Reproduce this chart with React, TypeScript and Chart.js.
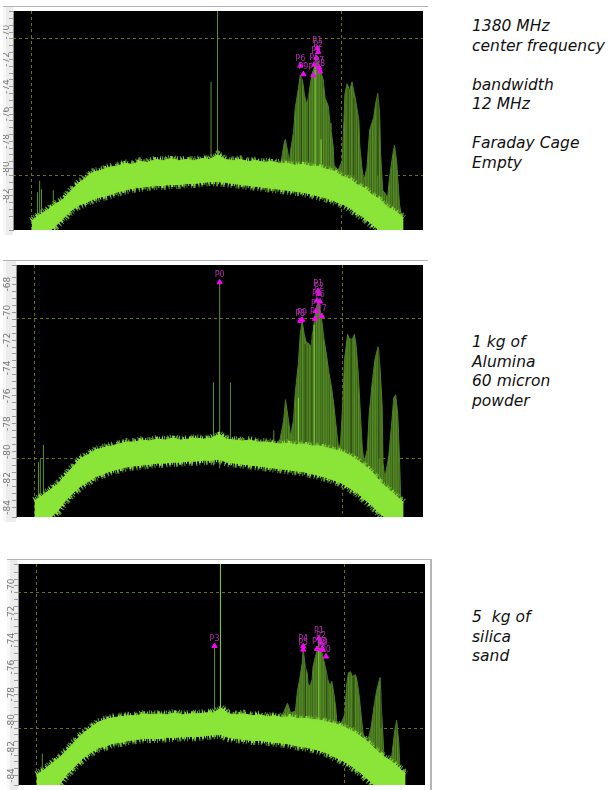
import React, { useEffect, useRef } from 'react';
import { Chart, registerables } from 'chart.js';

Chart.register(...registerables);

// ---------- shared axis data ----------
const bandFreqs = [
  1374, 1374.25, 1374.5, 1374.75, 1375, 1375.25, 1375.5, 1375.75, 1376, 1376.25,
  1376.5, 1376.75, 1377, 1377.25, 1377.5, 1377.75, 1378, 1378.25, 1378.5, 1378.75,
  1379, 1379.25, 1379.5, 1379.75, 1380, 1380.25, 1380.5, 1380.75, 1381, 1381.25,
  1381.5, 1381.75, 1382, 1382.25, 1382.5, 1382.75, 1383, 1383.25, 1383.5, 1383.75,
  1384, 1384.25, 1384.5, 1384.75, 1385, 1385.25, 1385.5, 1385.75, 1386,
];
const gridFreqs = [1374, 1384];
const refLevels = [-70.45, -80.5];

// ---------- panel 1 : Faraday cage empty ----------
const emptyTop = [
  -83.82, -83.4, -83.05, -82.63, -82.28, -81.65, -81.09, -80.67, -80.25, -80.11,
  -79.89, -79.82, -79.61, -79.68, -79.47, -79.54, -79.33, -79.4, -79.26, -79.4,
  -79.33, -79.4, -79.26, -79.33, -78.98, -79.33, -79.4, -79.33, -79.47, -79.4,
  -79.54, -79.47, -79.61, -79.61, -79.75, -79.68, -79.82, -79.82, -80.04, -80.18,
  -80.53, -80.74, -81.16, -81.44, -81.93, -82.28, -82.84, -83.12, -83.61,
];
const emptyBottom = [
  -84.74, -84.74, -84.67, -84.25, -83.68, -83.12, -82.7, -82.49, -82.21, -82.07,
  -81.93, -81.72, -81.58, -81.44, -81.37, -81.3, -81.23, -81.23, -81.16, -81.16,
  -81.09, -81.09, -81.02, -80.95, -80.95, -81.02, -81.09, -81.16, -81.23, -81.3,
  -81.37, -81.44, -81.51, -81.58, -81.65, -81.72, -81.86, -82.0, -82.14, -82.35,
  -82.56, -82.84, -83.26, -83.61, -84.11, -84.53, -84.74, -84.74, -84.74,
];
const emptyHumpFreqs = [
  1381.94, 1382.03, 1382.16, 1382.19, 1382.26, 1382.32, 1382.35, 1382.45, 1382.51, 1382.61,
  1382.67, 1382.74, 1382.8, 1382.86, 1382.93, 1382.99, 1383.06, 1383.15, 1383.25, 1383.31,
  1383.41, 1383.47, 1383.57, 1383.63, 1383.66, 1383.73, 1383.76, 1383.89, 1384.02, 1384.08,
  1384.11, 1384.18, 1384.24, 1384.27, 1384.34, 1384.4, 1384.46, 1384.56, 1384.59, 1384.66,
  1384.72, 1384.82, 1384.91, 1385.04, 1385.1, 1385.17, 1385.23, 1385.26, 1385.33, 1385.49,
  1385.55, 1385.65, 1385.71, 1385.78, 1385.87, 1385.94, 1386.0,
];
const emptyHumpLevels = [
  -80.32, -79.82, -78.0, -77.86, -78.7, -79.61, -78.77, -77.37, -75.54, -74.14,
  -73.16, -73.51, -74.49, -75.26, -74.84, -73.86, -72.95, -72.46, -72.11, -72.74,
  -73.51, -74.84, -75.4, -76.67, -77.16, -78.35, -79.75, -80.11, -79.47, -76.46,
  -74.56, -73.79, -74.14, -74.21, -73.65, -74.35, -75.05, -76.46, -78.35, -79.96,
  -80.88, -79.96, -77.16, -76.25, -75.26, -74.49, -75.96, -78.77, -81.58, -82.07,
  -80.67, -79.05, -78.28, -79.47, -82.56, -83.61, -83.82,
];
const emptyStripeFreqs = [1382.7, 1382.93, 1384.21, 1384.4, 1385.17];
const emptyStripeTops = [-73.3, -74.56, -74.14, -74.84, -74.7];
const emptyLightFreqs = [1383.15, 1383.34];
const emptyLightTops = [-72.46, -77.86];
const emptySpikeFreqs = [1374.19, 1374.26, 1374.32, 1374.7, 1379.79, 1380.0];
const emptySpikeBases = [-83.5, -83.5, -83.5, -83.0, -81, -81.3];
const emptySpikeTops = [-81.72, -80.88, -81.51, -81.58, -73.65, -66];
const emptyMarkFreqs = [1382.67, 1382.77, 1383.09, 1383.12, 1383.18, 1383.22, 1383.25, 1383.28, 1383.31];
const emptyMarkLevels = [-72.46, -73.09, -73.16, -72.39, -71.89, -71.19, -71.47, -72.6, -72.88];
const emptyMarkLabels = ['P6', 'P9', 'P3', 'P5', 'P4', 'P1', 'P2', 'P7', 'P8'];

// ---------- panel 2 : 1 kg alumina ----------
const aluminaTop = [
  -83.52, -83.17, -82.76, -82.34, -81.72, -81.1, -80.48, -80.21, -79.86, -79.72,
  -79.59, -79.45, -79.31, -79.31, -79.17, -79.24, -79.1, -79.17, -79.03, -79.17,
  -79.1, -79.03, -79.1, -79.03, -78.76, -79.1, -79.17, -79.24, -79.17, -79.31,
  -79.31, -79.38, -79.45, -79.38, -79.52, -79.45, -79.59, -79.59, -79.72, -79.86,
  -80.0, -80.28, -80.62, -81.03, -81.52, -82.21, -82.69, -83.17, -83.66,
];
const aluminaBottom = [
  -84.9, -84.9, -84.76, -84.28, -83.52, -82.97, -82.48, -82.14, -81.79, -81.59,
  -81.38, -81.24, -81.1, -81.03, -80.97, -80.9, -80.83, -80.83, -80.76, -80.76,
  -80.69, -80.69, -80.62, -80.62, -80.55, -80.76, -80.83, -80.9, -80.97, -81.03,
  -81.1, -81.17, -81.24, -81.31, -81.38, -81.45, -81.59, -81.72, -81.86, -82.07,
  -82.28, -82.62, -82.97, -83.45, -83.93, -84.48, -84.9, -84.9, -84.9,
];
const aluminaHumpFreqs = [
  1381.94, 1382.1, 1382.16, 1382.26, 1382.32, 1382.42, 1382.48, 1382.58, 1382.64, 1382.7,
  1382.77, 1382.83, 1382.93, 1382.99, 1383.06, 1383.12, 1383.22, 1383.28, 1383.34, 1383.41,
  1383.5, 1383.57, 1383.66, 1383.73, 1383.82, 1383.89, 1383.95, 1384.02, 1384.08, 1384.18,
  1384.24, 1384.34, 1384.4, 1384.46, 1384.53, 1384.59, 1384.66, 1384.72, 1384.82, 1384.88,
  1384.98, 1385.07, 1385.17, 1385.23, 1385.3, 1385.33, 1385.39, 1385.52, 1385.62, 1385.68,
  1385.74, 1385.81, 1385.87, 1385.9, 1385.97,
];
const aluminaHumpLevels = [
  -79.59, -77.79, -76.28, -77.79, -78.9, -77.79, -75.72, -73.66, -71.59, -70.62,
  -71.59, -72.14, -72.28, -72.48, -71.31, -70.21, -69.17, -69.72, -70.62, -71.93,
  -73.17, -74.34, -75.45, -76.62, -78.48, -79.86, -79.38, -76.62, -73.38, -71.59,
  -71.93, -71.93, -71.59, -72.48, -74.55, -77.1, -79.86, -80.76, -79.86, -77.31,
  -75.03, -73.38, -72.48, -73.86, -76.62, -80.76, -81.93, -80.28, -77.79, -76.14,
  -75.93, -77.31, -80.76, -83.03, -84.0,
];
const aluminaStripeFreqs = [1382.8, 1383.02, 1384.3, 1385.2];
const aluminaStripeTops = [-72.28, -71.59, -71.93, -72.69];
const aluminaLightFreqs = [1382.58, 1383.09];
const aluminaLightTops = [-76.14, -70.9];
const aluminaSpikeFreqs = [1374.13, 1374.19, 1374.29, 1379.82, 1380.02, 1380.37, 1381.78];
const aluminaSpikeBases = [-83.3, -83.3, -83.3, -81, -81.2, -81, -81];
const aluminaSpikeTops = [-80.76, -80.55, -79.52, -75.03, -67.86, -75.03, -78.48];
const aluminaMarkFreqs = [1380.02, 1382.64, 1382.7, 1383.12, 1383.15, 1383.18, 1383.22, 1383.25, 1383.28, 1383.34];
const aluminaMarkLevels = [-67.86, -70.62, -70.55, -70.48, -69.93, -69.17, -68.48, -68.69, -69.24, -70.28];
const aluminaMarkLabels = ['P0', 'P8', 'P9', 'P3', 'P5', 'P4', 'P1', 'P2', 'P6', 'P7'];

// ---------- panel 3 : 5 kg silica sand ----------
const sandTop = [
  -83.94, -83.59, -83.1, -82.68, -82.11, -81.48, -80.92, -80.49, -80.07, -79.86,
  -79.72, -79.65, -79.58, -79.58, -79.44, -79.51, -79.44, -79.51, -79.37, -79.51,
  -79.44, -79.44, -79.37, -79.37, -79.01, -79.44, -79.51, -79.44, -79.58, -79.51,
  -79.65, -79.58, -79.72, -79.65, -79.79, -79.79, -79.86, -79.93, -80.07, -80.21,
  -80.42, -80.7, -81.06, -81.48, -82.04, -82.54, -82.89, -83.38, -83.87,
];
const sandBottom = [
  -85.0, -85.0, -85.0, -84.65, -83.87, -83.31, -82.75, -82.32, -81.97, -81.83,
  -81.62, -81.55, -81.41, -81.34, -81.27, -81.27, -81.27, -81.2, -81.2, -81.13,
  -81.13, -81.13, -81.06, -80.99, -80.99, -81.2, -81.27, -81.34, -81.41, -81.41,
  -81.48, -81.55, -81.62, -81.69, -81.83, -81.9, -82.04, -82.18, -82.39, -82.68,
  -82.96, -83.31, -83.73, -84.23, -84.72, -85.0, -85.0, -85.0, -85.0,
];
const sandHumpFreqs = [
  1381.94, 1382.16, 1382.26, 1382.42, 1382.48, 1382.54, 1382.64, 1382.67, 1382.74, 1382.8,
  1382.83, 1382.9, 1382.96, 1382.99, 1383.06, 1383.12, 1383.18, 1383.28, 1383.34, 1383.41,
  1383.47, 1383.54, 1383.6, 1383.66, 1383.73, 1383.76, 1383.86, 1384.02, 1384.08, 1384.14,
  1384.21, 1384.27, 1384.37, 1384.43, 1384.5, 1384.56, 1384.62, 1384.75, 1384.88, 1384.98,
  1385.07, 1385.17, 1385.2, 1385.26, 1385.3, 1385.46, 1385.55, 1385.65, 1385.71, 1385.78,
  1385.81, 1385.87,
];
const sandHumpLevels = [
  -79.86, -78.66, -79.37, -79.23, -77.82, -77.11, -75.7, -74.65, -75.99, -76.41,
  -77.25, -77.39, -76.9, -75.99, -75.28, -74.79, -74.58, -74.93, -75.49, -76.2,
  -76.9, -77.39, -77.04, -77.82, -79.01, -79.93, -80.42, -79.51, -77.39, -76.41,
  -76.34, -76.69, -76.55, -77.11, -78.31, -79.72, -80.92, -81.62, -80.42, -78.8,
  -77.61, -76.76, -78.52, -80.92, -82.75, -83.73, -82.54, -80.63, -79.93, -81.62,
  -83.24, -84.15,
];
const sandStripeFreqs = [1382.74, 1383.44, 1384.3, 1385.2];
const sandStripeTops = [-75.99, -76.41, -76.69, -77.61];
const sandLightFreqs = [1379.98, 1383.18];
const sandLightTops = [-66, -73.87];
const sandSpikeFreqs = [1374.19, 1379.79];
const sandSpikeBases = [-83.5, -81];
const sandSpikeTops = [-82.39, -74.44];
const sandMarkFreqs = [1379.79, 1382.67, 1382.67, 1383.12, 1383.18, 1383.25, 1383.28, 1383.31, 1383.41];
const sandMarkLevels = [-74.44, -74.45, -74.7, -74.65, -73.87, -74.23, -74.65, -74.72, -75.21];
const sandMarkLabels = ['P3', 'P4', 'P5', 'P7', 'P1', 'P2', 'P8', 'P9', 'P0'];

// ---------- styles ----------
const BAND = '#8be438';
const FRINGE_TOP = '#63a02a';
const FRINGE_LOW = '#5b9526';
const STRIPE = '#2c4711';
const SPIKE = '#5f9228';
const LIGHT = '#86d93a';
const GRID = '#707008';
const MARK = '#ff00ff';
const MARK_TEXT = '#b22db2';
const X_MIN = 1373.4;
const X_MAX = 1386.63;

function pairs(xs: number[], ys: number[]) {
  return xs.map((x, i) => ({ x, y: ys[i] }));
}
function sticks(xs: number[], bases: number[] | number, tops: number[]) {
  const pts: any[] = [];
  xs.forEach((x, i) => {
    const b = Array.isArray(bases) ? bases[i] : bases;
    pts.push({ x, y: b }, { x, y: tops[i] }, { x, y: null });
  });
  return pts;
}

function humpPattern(): CanvasPattern | string {
  const c = document.createElement('canvas');
  c.width = 7;
  c.height = 1;
  const g = c.getContext('2d');
  if (!g) return '#4b7b1f';
  const cols = ['#4b7b1f', '#52852a', '#43701b', '#4e8022', '#3c6617', '#55892b', '#48761d'];
  cols.forEach((col, i) => { g.fillStyle = col; g.fillRect(i, 0, 1, 1); });
  return g.createPattern(c, 'repeat') || '#4b7b1f';
}

const chromePlugin = {
  id: 'chrome',
  beforeDraw(chart: any) {
    const { ctx, chartArea: a, height } = chart;
    ctx.save();
    ctx.fillStyle = '#ececec';
    ctx.fillRect(0, 0, a.left, height);
    ctx.fillStyle = '#f7f7f7';
    ctx.fillRect(0, 0, 3, height);
    ctx.fillStyle = '#000';
    ctx.fillRect(a.left, a.top, a.right - a.left, a.bottom - a.top);
    ctx.restore();
  },
  afterDraw(chart: any) {
    const { ctx, width } = chart;
    ctx.save();
    ctx.strokeStyle = '#b4b4b4';
    ctx.lineWidth = 1;
    ctx.beginPath();
    ctx.moveTo(0, 0.5);
    ctx.lineTo(width, 0.5);
    ctx.stroke();
    ctx.restore();
  },
};

const markerLabelPlugin = {
  id: 'markerLabels',
  afterDatasetsDraw(chart: any) {
    const { ctx } = chart;
    chart.data.datasets.forEach((ds: any, i: number) => {
      if (!ds.markLabels) return;
      const meta = chart.getDatasetMeta(i);
      ctx.save();
      ctx.font = '8px "DejaVu Sans", sans-serif';
      ctx.fillStyle = MARK_TEXT;
      ctx.textAlign = 'center';
      ctx.textBaseline = 'bottom';
      meta.data.forEach((el: any, j: number) => {
        ctx.fillText(ds.markLabels[j], el.x, el.y - 3);
      });
      ctx.restore();
    });
  },
};

type PanelProps = {
  left: number; top: number; width: number; height: number;
  axisWidth: number; labelPad: number; yMin: number; yMax: number;
  bandTop: number[]; bandBottom: number[];
  humpFreqs: number[]; humpLevels: number[];
  stripeFreqs: number[]; stripeTops: number[];
  lightFreqs: number[]; lightTops: number[]; lightBase: number;
  spikeFreqs: number[]; spikeBases: number[]; spikeTops: number[];
  markFreqs: number[]; markLevels: number[]; markLabels: string[];
};

function SpectrumPanel(p: PanelProps) {
  const ref = useRef<HTMLCanvasElement>(null);
  useEffect(() => {
    if (!ref.current) return;
    const lineBase = { pointRadius: 0, borderWidth: 1, tension: 0, spanGaps: false };
    const fillHump = humpPattern();
    const chart = new Chart(ref.current, {
      type: 'line',
      data: {
        datasets: [
          // 0: markers
          {
            type: 'scatter', data: pairs(p.markFreqs, p.markLevels), showLine: false,
            pointStyle: 'triangle', pointRadius: 3, backgroundColor: MARK, borderColor: MARK,
            borderWidth: 1, order: 0, markLabels: p.markLabels,
          } as any,
          // 1: band lower edge
          { ...lineBase, data: pairs(bandFreqs, p.bandBottom), borderColor: BAND, fill: false, order: 1 },
          // 2: band upper edge, filled down to lower edge
          { ...lineBase, data: pairs(bandFreqs, p.bandTop), borderColor: BAND, backgroundColor: BAND, fill: 1, order: 1 },
          // 3: bright noise fringe on top edge
          { ...lineBase, data: pairs(bandFreqs, p.bandTop), borderColor: BAND, borderWidth: 5,
            borderDash: [1, 1, 1, 3, 2, 1, 1, 2, 1, 4], borderCapStyle: 'butt', fill: false, order: 0.5 },
          // 4: darker noise fringe on top edge
          { ...lineBase, data: pairs(bandFreqs, p.bandTop), borderColor: FRINGE_TOP, borderWidth: 8,
            borderDash: [1, 3, 1, 2, 1, 5, 1, 1], borderCapStyle: 'butt', fill: false, order: 1.5 },
          // 5: noise fringe on lower edge
          { ...lineBase, data: pairs(bandFreqs, p.bandBottom), borderColor: FRINGE_LOW, borderWidth: 9,
            borderDash: [1, 2, 1, 4, 1, 1, 2, 3], borderCapStyle: 'butt', fill: false, order: 1.5 },
          { ...lineBase, data: pairs(bandFreqs, p.bandBottom), borderColor: BAND, borderWidth: 5,
            borderDash: [1, 2, 2, 1, 1, 3], borderCapStyle: 'butt', fill: false, order: 0.5 },
          // 7: bright lines
          { ...lineBase, data: sticks(p.lightFreqs, p.lightBase, p.lightTops), borderColor: LIGHT, fill: false, order: 2 },
          // 8: dark stripes
          { ...lineBase, data: sticks(p.stripeFreqs, -80.5, p.stripeTops), borderColor: STRIPE, fill: false, order: 3 },
          // 9: humps
          { ...lineBase, data: pairs(p.humpFreqs, p.humpLevels), borderColor: '#4b7b1f', backgroundColor: fillHump, fill: 1, order: 4 },
          // 10: spikes
          { ...lineBase, data: sticks(p.spikeFreqs, p.spikeBases, p.spikeTops), borderColor: SPIKE, fill: false, order: 5 },
        ] as any,
      },
      options: {
        animation: false,
        responsive: false,
        maintainAspectRatio: false,
        events: [],
        layout: { padding: 0 },
        plugins: { legend: { display: false }, tooltip: { enabled: false } },
        scales: {
          x: {
            type: 'linear', min: X_MIN, max: X_MAX, position: 'bottom',
            ticks: { display: false },
            grid: { color: GRID, drawTicks: false, lineWidth: 1 },
            border: { display: false, dash: [3, 3] },
            afterBuildTicks: (s: any) => { s.ticks = gridFreqs.map((v) => ({ value: v })); },
            afterFit: (s: any) => { s.height = 0; s.paddingLeft = 0; s.paddingRight = 0; },
          },
          y: {
            type: 'linear', min: p.yMin, max: p.yMax, position: 'left',
            ticks: {
              stepSize: 0.5, autoSkip: false, minRotation: 90, maxRotation: 90,
              crossAlign: 'center', padding: p.labelPad, color: '#737373',
              font: { size: 9, family: '"DejaVu Sans", sans-serif' },
              callback: (v: any) => (Math.abs(v % 2) < 1e-6 ? String(v) : ''),
            },
            grid: { drawOnChartArea: false, drawTicks: true, tickLength: 4, color: '#9a9a9a' },
            border: { display: true, color: '#8c8c8c' },
            afterFit: (s: any) => { s.width = p.axisWidth; s.paddingTop = 0; s.paddingBottom = 0; },
          },
          yg: {
            type: 'linear', min: p.yMin, max: p.yMax, position: 'right',
            ticks: { display: false },
            grid: { color: GRID, drawTicks: false, lineWidth: 1 },
            border: { display: false, dash: [3, 3] },
            afterBuildTicks: (s: any) => { s.ticks = refLevels.map((v) => ({ value: v })); },
            afterFit: (s: any) => { s.width = 0; s.paddingTop = 0; s.paddingBottom = 0; },
          },
        } as any,
      },
      plugins: [chromePlugin, markerLabelPlugin],
    });
    return () => chart.destroy();
  }, []);
  return (
    <canvas
      ref={ref}
      width={p.width}
      height={p.height}
      style={{ position: 'absolute', left: p.left, top: p.top, width: p.width, height: p.height }}
    />
  );
}

const noteStyle: React.CSSProperties = {
  position: 'absolute', left: 472, margin: 0, whiteSpace: 'pre',
  fontFamily: '"DejaVu Sans", sans-serif', fontStyle: 'italic', fontSize: 15.5,
  lineHeight: '19.5px', color: '#111',
};

export default function App() {
  return (
    <div style={{ position: 'absolute', left: 0, top: 0, width: 612, height: 790, background: '#fff', overflow: 'hidden' }}>
      <SpectrumPanel
        left={3} top={6} width={425} height={229} axisWidth={10} labelPad={-4.8}
        yMin={-84.49} yMax={-68.46}
        bandTop={emptyTop} bandBottom={emptyBottom}
        humpFreqs={emptyHumpFreqs} humpLevels={emptyHumpLevels}
        stripeFreqs={emptyStripeFreqs} stripeTops={emptyStripeTops}
        lightFreqs={emptyLightFreqs} lightTops={emptyLightTops} lightBase={-80.5}
        spikeFreqs={emptySpikeFreqs} spikeBases={emptySpikeBases} spikeTops={emptySpikeTops}
        markFreqs={emptyMarkFreqs} markLevels={emptyMarkLevels} markLabels={emptyMarkLabels}
      />
      <SpectrumPanel
        left={3} top={260} width={425} height={262} axisWidth={13} labelPad={-2.8}
        yMin={-84.69} yMax={-66.62}
        bandTop={aluminaTop} bandBottom={aluminaBottom}
        humpFreqs={aluminaHumpFreqs} humpLevels={aluminaHumpLevels}
        stripeFreqs={aluminaStripeFreqs} stripeTops={aluminaStripeTops}
        lightFreqs={aluminaLightFreqs} lightTops={aluminaLightTops} lightBase={-80.5}
        spikeFreqs={aluminaSpikeFreqs} spikeBases={aluminaSpikeBases} spikeTops={aluminaSpikeTops}
        markFreqs={aluminaMarkFreqs} markLevels={aluminaMarkLevels} markLabels={aluminaMarkLabels}
      />
      <SpectrumPanel
        left={7} top={559} width={423} height={231} axisWidth={11} labelPad={-5.3}
        yMin={-84.7} yMax={-68.38}
        bandTop={sandTop} bandBottom={sandBottom}
        humpFreqs={sandHumpFreqs} humpLevels={sandHumpLevels}
        stripeFreqs={sandStripeFreqs} stripeTops={sandStripeTops}
        lightFreqs={sandLightFreqs} lightTops={sandLightTops} lightBase={-80.8}
        spikeFreqs={sandSpikeFreqs} spikeBases={sandSpikeBases} spikeTops={sandSpikeTops}
        markFreqs={sandMarkFreqs} markLevels={sandMarkLevels} markLabels={sandMarkLabels}
      />
      <div style={{ position: 'absolute', left: 430, top: 559, width: 2, height: 231, background: '#b5b5b5' }} />
      <div style={{ ...noteStyle, top: 17 }}>{'1380 MHz\ncenter frequency\n\nbandwidth\n12 MHz\n\nFaraday Cage\nEmpty'}</div>
      <div style={{ ...noteStyle, top: 333 }}>{'1 kg of\nAlumina\n60 micron\npowder'}</div>
      <div style={{ ...noteStyle, top: 608 }}>{'5  kg of\nsilica\nsand'}</div>
    </div>
  );
}
